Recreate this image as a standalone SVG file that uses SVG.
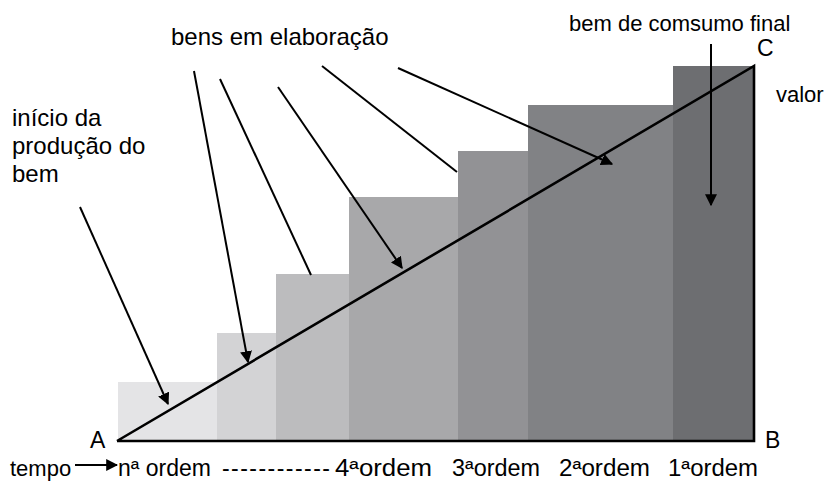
<svg xmlns="http://www.w3.org/2000/svg" width="828" height="482" viewBox="0 0 828 482">
<defs>
<style>
text{font-family:"Liberation Sans",Arial,sans-serif;font-size:22px;fill:#000}
.big{font-size:24px}
.ord{font-size:23px}
.ln{stroke:#000;stroke-width:2;fill:none}
.ax{stroke:#000;stroke-width:2.6;fill:none}
</style>
<marker id="ah" viewBox="0 0 10 10" refX="9" refY="5" markerWidth="6" markerHeight="6" orient="auto" markerUnits="strokeWidth">
<path d="M0,0 L10,5 L0,10 Z" fill="#000"/>
</marker>
</defs>
<rect width="828" height="482" fill="#fff"/>
<g id="steps">
<rect x="118" y="382" width="100" height="59" fill="#e4e4e6"/>
<rect x="217" y="333" width="59" height="108" fill="#d3d3d5"/>
<rect x="276" y="274" width="73" height="167" fill="#bcbcbe"/>
<rect x="349" y="197" width="109" height="244" fill="#a8a8aa"/>
<rect x="458" y="151" width="70" height="290" fill="#929295"/>
<rect x="528" y="105" width="145" height="336" fill="#818285"/>
<rect x="673" y="66" width="81" height="375" fill="#6d6e71"/>
</g>
<g id="axes">
<path class="ax" d="M117,441 H754 V66 L117,441"/>
</g>
<g id="connectors">
<line class="ln" x1="80" y1="207" x2="168" y2="404" marker-end="url(#ah)"/>
<line class="ln" x1="194" y1="71" x2="248" y2="362" marker-end="url(#ah)"/>
<line class="ln" x1="220" y1="79" x2="311" y2="275"/>
<line class="ln" x1="278" y1="87" x2="402" y2="268" marker-end="url(#ah)"/>
<line class="ln" x1="322" y1="66" x2="457" y2="172"/>
<line class="ln" x1="398" y1="68" x2="612" y2="164" marker-end="url(#ah)"/>
<line class="ln" x1="711" y1="44" x2="711" y2="205" marker-end="url(#ah)"/>
<line class="ln" x1="75" y1="465" x2="117" y2="465" marker-end="url(#ah)"/>
</g>
<g id="labels">
<text class="big" x="171" y="45">bens em elaboração</text>
<text x="569" y="31">bem de comsumo final</text>
<text class="ord" x="757" y="56">C</text>
<text x="776" y="102">valor</text>
<text class="big" x="12" y="126">início da</text>
<text class="big" x="12" y="154">produção do</text>
<text class="big" x="12" y="182">bem</text>
<text class="ord" x="90" y="448">A</text>
<text class="ord" x="765" y="448">B</text>
<text x="10" y="476">tempo</text>
<text class="ord" x="118" y="476">nª ordem</text>
<text class="ord" x="222" y="476" textLength="108" lengthAdjust="spacing">------------</text>
<text class="ord" x="335" y="476" textLength="97" lengthAdjust="spacingAndGlyphs">4ªordem</text>
<text class="ord" x="452" y="476" textLength="88" lengthAdjust="spacingAndGlyphs">3ªordem</text>
<text class="ord" x="559" y="476" textLength="91" lengthAdjust="spacingAndGlyphs">2ªordem</text>
<text class="ord" x="668" y="476" textLength="90" lengthAdjust="spacingAndGlyphs">1ªordem</text>
</g>
</svg>
